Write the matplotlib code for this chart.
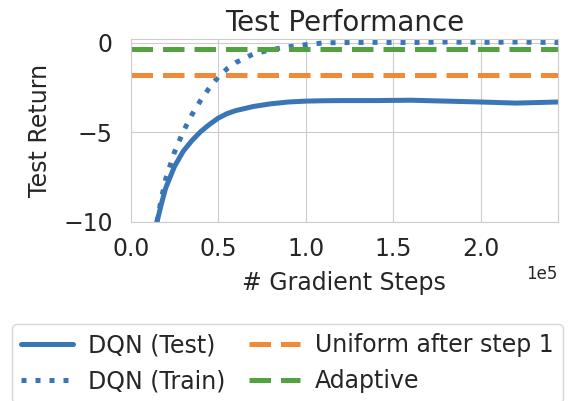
import numpy as np
import matplotlib.pyplot as plt
import seaborn as sns

sns.set_style('whitegrid')
plt.rcParams['font.family'] = ['DejaVu Sans']

# values
steps = np.array([0.15, 0.175, 0.2, 0.25, 0.3, 0.35, 0.4, 0.45, 0.5, 0.55, 0.6, 0.7, 0.8, 0.9,
                  1.0, 1.1, 1.2, 1.4, 1.6, 1.8, 2.0, 2.2, 2.44]) * 1e5
dqn_test = [-10.0, -9.0, -8.1, -6.9, -6.05, -5.45, -4.95, -4.55, -4.2, -3.95, -3.78, -3.55,
            -3.4, -3.3, -3.25, -3.23, -3.22, -3.22, -3.2, -3.25, -3.3, -3.36, -3.3]
dqn_train = [-10.0, -8.7, -7.6, -6.1, -4.95, -4.0, -3.2, -2.5, -1.9, -1.45, -1.1, -0.62,
             -0.38, -0.22, -0.1, 0.0, 0.02, 0.03, 0.02, 0.05, 0.03, 0.05, 0.02]
uniform_level = -1.81
adaptive_level = -0.32

blue = '#3a76b5'
orange = '#f08a38'
green = '#52a23f'

fig = plt.figure(figsize=(5.77, 4.01), dpi=100)
ax = fig.add_axes([0.2265, 0.4464, 0.7405, 0.4564])

ax.plot(steps, dqn_test, color=blue, lw=3.6, label='DQN (Test)')
ax.plot(steps, dqn_train, color=blue, lw=3.6, ls=(0, (1, 1.8)), label='DQN (Train)')
ax.axhline(uniform_level, color=orange, lw=3.6, ls=(0, (4.3, 2.0)), label='Uniform after step 1')
ax.axhline(adaptive_level, color=green, lw=3.6, ls=(0, (4.3, 2.0)), label='Adaptive')

ax.set_xlim(0, 2.44e5)
ax.set_ylim(-10.0, 0.22)
ax.set_yticks([-10, -5, 0])
ax.set_xticks([0, 0.5e5, 1e5, 1.5e5, 2e5])
ax.ticklabel_format(axis='x', style='sci', scilimits=(0, 0))
ax.xaxis.get_offset_text().set_fontsize(12)
ax.tick_params(labelsize=17, length=0)
ax.tick_params(axis='x', pad=11)
ax.tick_params(axis='y', pad=13)
ax.set_xlabel('# Gradient Steps', fontsize=17, labelpad=7)
ax.set_ylabel('Test Return', fontsize=17, labelpad=8)
ax.set_title('Test Performance', fontsize=20, pad=6)

handles, labels = ax.get_legend_handles_labels()
fig.legend(handles, labels, loc='upper left', bbox_to_anchor=(12 / 577, 1 - 324 / 401), ncol=2,
           fontsize=17, frameon=True, handlelength=2.2, columnspacing=1.0,
           borderpad=0.4, labelspacing=0.5, handletextpad=0.6, borderaxespad=0)

fig.savefig('out.png', dpi=100)
